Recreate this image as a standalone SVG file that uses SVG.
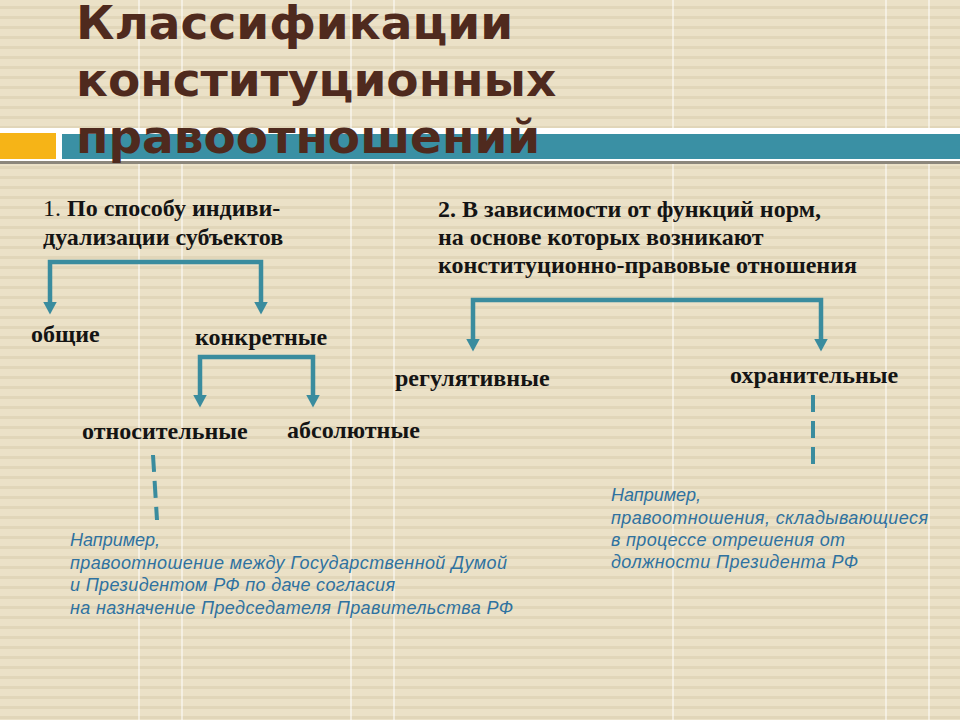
<svg xmlns="http://www.w3.org/2000/svg" width="960" height="720" viewBox="0 0 960 720">
<defs>
<pattern id="stripes" x="0" y="0" width="10" height="10" patternUnits="userSpaceOnUse">
<rect width="10" height="10" fill="#ebe1c7"/>
<rect y="6" width="10" height="3" fill="#e1d6b9"/>
</pattern>
<marker id="ah" viewBox="0 -7 13 14" markerWidth="13" markerHeight="14" refX="0.5" refY="0" orient="auto" markerUnits="userSpaceOnUse">
<path d="M0,-7 L13,0 L0,7 z" fill="#3a8c9e"/>
</marker>
<style>
.title{font-family:"DejaVu Sans",Verdana,sans-serif;font-weight:bold;font-size:47px;fill:#4f2a1e}
.lbl{font-family:"Liberation Serif","Times New Roman",serif;font-weight:bold;font-size:24px;fill:#141414}
.num{font-weight:normal}
.ex{font-family:"Liberation Sans",Arial,sans-serif;font-style:italic;font-size:18px;fill:#2f72a0}
.con{fill:none;stroke:#3a8c9e;stroke-width:4.5;marker-end:url(#ah)}
.dash{fill:none;stroke:#3a8c9e;stroke-width:4;stroke-dasharray:17 9}
.vl{stroke:#ffffff;stroke-width:1.2;opacity:0.85}
</style>
</defs>
<g id="background">
<rect width="960" height="720" fill="url(#stripes)"/>
<line class="vl" x1="139" y1="0" x2="139" y2="720"/>
<line class="vl" x1="182" y1="0" x2="182" y2="720"/>
<line class="vl" x1="351" y1="0" x2="351" y2="720"/>
<line class="vl" x1="394" y1="0" x2="394" y2="720"/>
<line class="vl" x1="673" y1="0" x2="673" y2="720"/>
<line class="vl" x1="886" y1="0" x2="886" y2="720"/>
<line class="vl" x1="929" y1="0" x2="929" y2="720"/>
</g>
<g id="header-bar">
<rect x="0" y="128" width="960" height="33" fill="#ffffff"/>
<rect x="0" y="133" width="56" height="26" fill="#f6b417"/>
<rect x="62" y="134" width="898" height="25" fill="#3a90a4"/>
<rect x="0" y="161" width="960" height="3" fill="#8c877c"/>
</g>
<g id="title">
<text class="title" x="76" y="39">Классификации</text>
<text class="title" x="76" y="96">конституционных</text>
<text class="title" x="76" y="153">правоотношений</text>
</g>
<g id="connectors">
<path class="con" d="M155,262 H50 V302"/>
<path class="con" d="M155,262 H261 V302"/>
<path class="con" d="M256,357 H200 V395"/>
<path class="con" d="M256,357 H313 V395"/>
<path class="con" d="M647,300 H473 V339"/>
<path class="con" d="M647,300 H821 V339"/>
<path class="dash" d="M153,455 L157,520"/>
<path class="dash" d="M813,395 L813,468"/>
</g>
<g id="node-criterion1">
<text class="lbl" x="43" y="216"><tspan class="num">1. </tspan>По способу индиви-</text>
<text class="lbl" x="43" y="245">дуализации субъектов</text>
</g>
<g id="node-criterion2">
<text class="lbl" x="438" y="217">2. В зависимости от функций норм,</text>
<text class="lbl" x="438" y="245">на основе которых возникают</text>
<text class="lbl" x="438" y="273">конституционно-правовые отношения</text>
</g>
<g id="node-obshchie"><text class="lbl" x="31" y="342">общие</text></g>
<g id="node-konkretnye"><text class="lbl" x="195" y="345">конкретные</text></g>
<g id="node-otnositelnye"><text class="lbl" x="82" y="439">относительные</text></g>
<g id="node-absolyutnye"><text class="lbl" x="287" y="438">абсолютные</text></g>
<g id="node-regulyativnye"><text class="lbl" x="395" y="386">регулятивные</text></g>
<g id="node-okhranitelnye"><text class="lbl" x="730" y="383">охранительные</text></g>
<g id="example-left">
<text class="ex" x="70" y="546">Например,</text>
<text class="ex" x="70" y="569" textLength="437" lengthAdjust="spacing">правоотношение между Государственной Думой</text>
<text class="ex" x="70" y="591" textLength="325" lengthAdjust="spacing">и Президентом РФ по даче согласия</text>
<text class="ex" x="70" y="614" textLength="443" lengthAdjust="spacing">на назначение Председателя Правительства РФ</text>
</g>
<g id="example-right">
<text class="ex" x="611" y="501">Например,</text>
<text class="ex" x="611" y="524" textLength="317" lengthAdjust="spacing">правоотношения, складывающиеся</text>
<text class="ex" x="611" y="546" textLength="234" lengthAdjust="spacing">в процессе отрешения от</text>
<text class="ex" x="611" y="568" textLength="247" lengthAdjust="spacing">должности Президента РФ</text>
</g>
</svg>
